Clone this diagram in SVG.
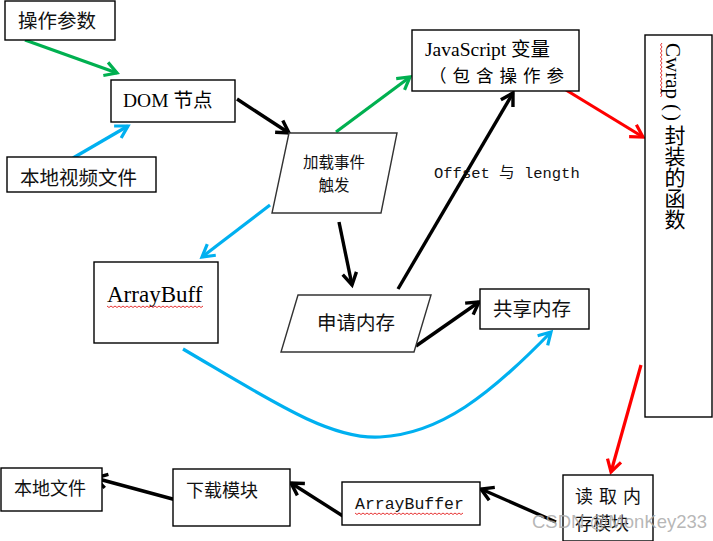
<svg xmlns="http://www.w3.org/2000/svg" width="713" height="541" viewBox="0 0 713 541">
  <style>
    .box { fill: #fff; stroke: #000; stroke-width: 1.4; }
    .para { fill: #fff; stroke: #333; stroke-width: 1.4; }
    .cjk { font-family: "Noto Sans CJK SC", sans-serif; fill: #111; }
    .serif { font-family: "Liberation Serif", "Noto Sans CJK SC", serif; fill: #000; }
    .mono { font-family: "Liberation Mono", "Noto Sans CJK SC", monospace; fill: #111; }
    .k { fill: none; stroke: #000; stroke-width: 3.4; }
    .g { fill: none; stroke: #00b050; stroke-width: 3.2; }
    .c { fill: none; stroke: #00b0f0; stroke-width: 3.2; }
    .r { fill: none; stroke: #ff0000; stroke-width: 3.2; }
    .wavy { fill: none; stroke: #e00000; stroke-width: 0.8; }
  </style>
  <defs>
    <marker id="hk" markerUnits="userSpaceOnUse" markerWidth="30" markerHeight="30" viewBox="-15 -15 30 30" refX="0" refY="0" orient="auto">
      <path d="M-12,-7 L0,0 L-12,7" fill="none" stroke="#000" stroke-width="3.4"/>
    </marker>
    <marker id="hg" markerUnits="userSpaceOnUse" markerWidth="30" markerHeight="30" viewBox="-15 -15 30 30" refX="0" refY="0" orient="auto">
      <path d="M-12,-7 L0,0 L-12,7" fill="none" stroke="#00b050" stroke-width="3.2"/>
    </marker>
    <marker id="hc" markerUnits="userSpaceOnUse" markerWidth="30" markerHeight="30" viewBox="-15 -15 30 30" refX="0" refY="0" orient="auto">
      <path d="M-12,-7 L0,0 L-12,7" fill="none" stroke="#00b0f0" stroke-width="3.2"/>
    </marker>
    <marker id="hr" markerUnits="userSpaceOnUse" markerWidth="30" markerHeight="30" viewBox="-15 -15 30 30" refX="0" refY="0" orient="auto">
      <path d="M-12,-7 L0,0 L-12,7" fill="none" stroke="#ff0000" stroke-width="3.2"/>
    </marker>
  </defs>

  <rect width="713" height="541" fill="#fff"/>

  <!-- connectors -->
  <g id="connectors">
    <line class="g" x1="25" y1="40" x2="117" y2="73" marker-end="url(#hg)"/>
    <line class="c" x1="73" y1="158" x2="128" y2="126" marker-end="url(#hc)"/>
    <line class="k" x1="237" y1="99" x2="289" y2="133" marker-end="url(#hk)"/>
    <line class="g" x1="336" y1="132" x2="410" y2="77" marker-end="url(#hg)"/>
    <line class="r" x1="566" y1="90" x2="643" y2="137" marker-end="url(#hr)"/>
    <line class="c" x1="270" y1="205" x2="202" y2="257" marker-end="url(#hc)"/>
    <line class="k" x1="339" y1="222" x2="352" y2="285" marker-end="url(#hk)"/>
    <line class="k" x1="398" y1="289" x2="513" y2="93" marker-end="url(#hk)"/>
    <line class="k" x1="416" y1="346" x2="479" y2="302" marker-end="url(#hk)"/>
    <path class="c" d="M183,349 C270,400 330,440 380,437 C440,434 490,395 551,332" marker-end="url(#hc)"/>
    <line class="r" x1="641" y1="365" x2="611" y2="472" marker-end="url(#hr)"/>
    <line class="k" x1="556" y1="522" x2="481" y2="489" marker-end="url(#hk)"/>
    <line class="k" x1="346" y1="518" x2="291" y2="483" marker-end="url(#hk)"/>
    <line class="k" x1="180" y1="501" x2="95" y2="478" marker-end="url(#hk)"/>
  </g>

  <g id="n-params">
    <rect class="box" x="5" y="1" width="110" height="39"/>
    <text class="cjk" x="18" y="28" font-size="19.5">操作参数</text>
  </g>

  <g id="n-dom">
    <rect class="box" x="111" y="80" width="124" height="42"/>
    <text class="serif" x="123" y="107" font-size="19.5">DOM 节点</text>
  </g>

  <g id="n-video">
    <rect class="box" x="7" y="157" width="149" height="35"/>
    <text class="cjk" x="20" y="185" font-size="19.5">本地视频文件</text>
  </g>

  <g id="n-load">
    <polygon class="para" points="289,133 397,133 381,213 272,213"/>
    <text class="cjk" x="334" y="168" font-size="15.5" text-anchor="middle">加载事件</text>
    <text class="cjk" x="334" y="191" font-size="15.5" text-anchor="middle">触发</text>
  </g>

  <g id="n-jsvar">
    <rect class="box" x="412" y="30" width="167" height="61"/>
    <text class="serif" x="425" y="56" font-size="19.5">JavaScript 变量</text>
    <text class="serif" x="429" y="82" font-size="17.5" letter-spacing="6">（包含操作参</text>
  </g>

  <g id="n-cwrap">
    <rect class="box" x="645" y="35" width="67" height="382"/>
    <path class="wavy" d="M662,43 l-1.5,2 l1.5,2 l-1.5,2 l1.5,2 l-1.5,2 l1.5,2 l-1.5,2 l1.5,2 l-1.5,2 l1.5,2 l-1.5,2 l1.5,2 l-1.5,2 l1.5,2 l-1.5,2 l1.5,2 l-1.5,2 l1.5,2 l-1.5,2 l1.5,2 l-1.5,2 l1.5,2 l-1.5,2 l1.5,2 l-1.5,2 l1.5,2 l-1.5,2"/>
    <text class="serif" x="673" y="43" font-size="21" style="writing-mode: vertical-rl; text-orientation: mixed;">Cwrap<tspan dy="5">(</tspan><tspan dy="3">)</tspan><tspan dy="4">封装的函数</tspan></text>
  </g>

  <text class="mono" x="434" y="178" font-size="15.5">Offset 与 length</text>

  <g id="n-arraybuff">
    <rect class="box" x="94" y="262" width="124" height="81"/>
    <text class="serif" x="107" y="302" font-size="23">ArrayBuff</text>
    <path class="wavy" d="M107,306 l2,1.5 l2,-1.5 l2,1.5 l2,-1.5 l2,1.5 l2,-1.5 l2,1.5 l2,-1.5 l2,1.5 l2,-1.5 l2,1.5 l2,-1.5 l2,1.5 l2,-1.5 l2,1.5 l2,-1.5 l2,1.5 l2,-1.5 l2,1.5 l2,-1.5 l2,1.5 l2,-1.5 l2,1.5 l2,-1.5 l2,1.5 l2,-1.5 l2,1.5 l2,-1.5 l2,1.5 l2,-1.5 l2,1.5 l2,-1.5 l2,1.5 l2,-1.5 l2,1.5 l2,-1.5 l2,1.5 l2,-1.5 l2,1.5 l2,-1.5 l2,1.5 l2,-1.5 l2,1.5 l2,-1.5 l2,1.5 l2,-1.5 l2,1.5 l2,-1.5"/>
  </g>

  <g id="n-alloc">
    <polygon class="para" points="298,295 431,295 414,352 281,352"/>
    <text class="cjk" x="317" y="330" font-size="19.5">申请内存</text>
  </g>

  <g id="n-shared">
    <rect class="box" x="480" y="289" width="109" height="40"/>
    <text class="cjk" x="493" y="316" font-size="19.5">共享内存</text>
  </g>

  <g id="n-localfile">
    <rect class="box" x="1" y="468" width="101" height="43"/>
    <text class="cjk" x="14" y="495" font-size="18">本地文件</text>
  </g>

  <g id="n-download">
    <rect class="box" x="173" y="469" width="117" height="57"/>
    <text class="cjk" x="186" y="497" font-size="18">下载模块</text>
  </g>

  <g id="n-arraybuffer">
    <rect class="box" x="342" y="482" width="138" height="43"/>
    <text class="mono" x="355" y="509" font-size="16.5">ArrayBuffer</text>
    <path class="wavy" d="M355,513 l2,1.5 l2,-1.5 l2,1.5 l2,-1.5 l2,1.5 l2,-1.5 l2,1.5 l2,-1.5 l2,1.5 l2,-1.5 l2,1.5 l2,-1.5 l2,1.5 l2,-1.5 l2,1.5 l2,-1.5 l2,1.5 l2,-1.5 l2,1.5 l2,-1.5 l2,1.5 l2,-1.5 l2,1.5 l2,-1.5 l2,1.5 l2,-1.5 l2,1.5 l2,-1.5 l2,1.5 l2,-1.5 l2,1.5 l2,-1.5 l2,1.5 l2,-1.5 l2,1.5 l2,-1.5 l2,1.5 l2,-1.5 l2,1.5 l2,-1.5 l2,1.5 l2,-1.5 l2,1.5 l2,-1.5 l2,1.5 l2,-1.5 l2,1.5 l2,-1.5 l2,1.5 l2,-1.5 l2,1.5 l2,-1.5 l2,1.5 l2,-1.5"/>
  </g>

  <g id="n-readmem">
    <rect class="box" x="563" y="475" width="90" height="66"/>
    <text class="cjk" x="575" y="503" font-size="18" letter-spacing="6">读取内</text>
    <text class="cjk" x="575" y="530" font-size="18">存模块</text>
  </g>

  <text x="532" y="528" font-family="Liberation Sans, sans-serif" font-size="18.5" fill="#aaa" fill-opacity="0.85">CSDN @MonKey233</text>
</svg>
